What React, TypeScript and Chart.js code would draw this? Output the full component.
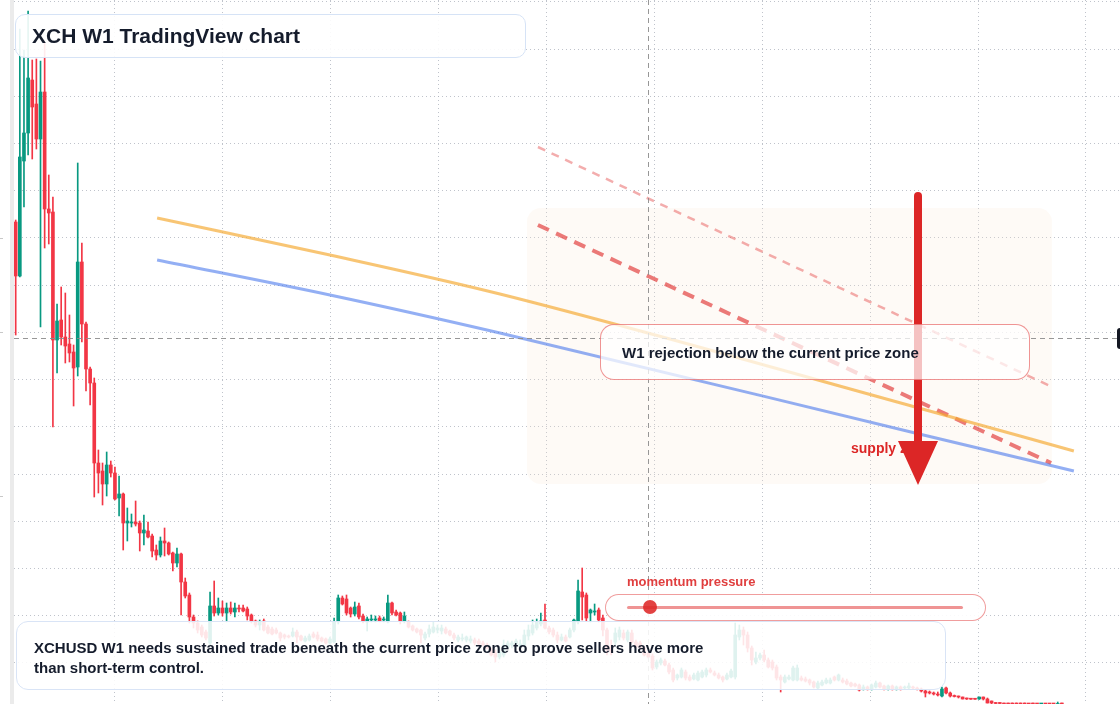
import React, { useEffect, useRef } from "react";
import { Chart, registerables } from "chart.js";

Chart.register(...registerables);

// Weekly XCH candles (price units of the hidden right axis)
const opens = [
  976, 868, 1098, 1154, 1260, 1212, 1142, 1236, 1002, 996,
  740, 780, 746, 732, 716, 686, 896, 772, 682, 654,
  494, 478, 452, 490, 474, 424, 432, 374, 374, 376,
  374, 354, 358, 348, 320, 310, 338, 334, 314, 294,
  312, 256, 230, 186, 174, 166, 156, 134, 208, 194,
  204, 194, 204, 196, 204, 204, 202, 190, 178, 170,
  178, 166, 162, 160, 154, 150, 148, 148, 156, 148,
  138, 140, 152, 150, 144, 142, 134, 136, 176, 224,
  222, 204, 192, 208, 188, 176, 180, 180, 184, 180,
  176, 214, 196, 194, 178, 176, 168, 162, 160, 144,
  152, 156, 160, 158, 162, 158, 150, 140, 142, 140,
  138, 140, 138, 134, 130, 120, 114, 106, 110, 126,
  130, 132, 126, 130, 148, 154, 164, 172, 180, 164,
  160, 150, 140, 146, 146, 160, 176, 236, 230, 194,
  196, 200, 184, 160, 128, 136, 146, 154, 140, 154,
  136, 134, 124, 114, 108, 86, 94, 98, 90, 80,
  64, 66, 76, 66, 62, 60, 66, 70, 80, 74,
  70, 66, 62, 66, 66, 146, 160, 150, 124, 96,
  104, 110, 100, 96, 86, 66, 56, 62, 60, 60,
  64, 62, 60, 56, 44, 50, 54, 54, 66, 60,
  60, 58, 54, 52, 50, 42, 46, 42, 46, 54,
  48, 42, 48, 42, 46, 44, 44, 46, 44, 42,
  38, 36, 34, 32, 28, 44, 34, 28, 28, 26,
  24, 22, 22, 22, 26, 22, 18, 14, 14, 13,
  13, 12.5, 13, 12, 13, 12, 12, 12, 11, 12,
  12, 11.5, 11, 13,
];
const highs = [
  980, 1362, 1320, 1398, 1300, 1302, 1298, 1334, 1070, 1026,
  812, 846, 834, 790, 730, 1094, 934, 776, 686, 664,
  520, 494, 516, 498, 486, 468, 434, 404, 392, 418,
  378, 390, 376, 352, 330, 346, 364, 336, 316, 324,
  314, 264, 234, 190, 178, 170, 160, 236, 258, 224,
  218, 214, 216, 214, 210, 210, 206, 192, 180, 180,
  182, 170, 166, 164, 156, 152, 150, 164, 160, 150,
  148, 152, 156, 156, 146, 144, 146, 184, 230, 228,
  230, 206, 216, 214, 192, 186, 190, 188, 188, 186,
  230, 216, 200, 196, 196, 178, 170, 164, 162, 156,
  170, 176, 170, 170, 166, 160, 154, 150, 152, 148,
  148, 144, 142, 138, 134, 124, 120, 124, 140, 138,
  138, 142, 140, 160, 170, 180, 182, 194, 212, 168,
  164, 156, 152, 150, 164, 182, 260, 284, 234, 202,
  212, 204, 190, 164, 140, 164, 166, 160, 160, 160,
  140, 138, 128, 118, 112, 100, 104, 102, 94, 84,
  72, 84, 80, 70, 74, 78, 80, 84, 84, 78,
  74, 68, 74, 82, 174, 170, 166, 156, 128, 116,
  114, 120, 104, 100, 90, 70, 70, 70, 88, 90,
  68, 66, 62, 58, 58, 60, 64, 64, 68, 72,
  64, 62, 56, 54, 52, 50, 48, 52, 58, 56,
  50, 50, 50, 48, 48, 48, 54, 48, 46, 44,
  40, 38, 36, 36, 46, 46, 36, 30, 28, 26,
  24, 23, 23, 26, 26, 24, 18, 15, 15, 14,
  14, 14, 14, 14, 14, 13, 14, 13, 13, 13,
  13, 13, 16, 14,
];
const lows = [
  750, 866, 1006, 1110, 1102, 1122, 766, 924, 932, 566,
  674, 730, 694, 696, 608, 668, 736, 638, 610, 426,
  434, 410, 428, 466, 420, 388, 320, 338, 366, 368,
  318, 330, 344, 306, 300, 306, 308, 310, 278, 286,
  190, 224, 174, 164, 154, 146, 140, 130, 188, 190,
  188, 176, 192, 186, 196, 196, 180, 174, 166, 160,
  158, 152, 150, 152, 138, 142, 144, 146, 134, 138,
  136, 138, 144, 138, 136, 132, 132, 134, 172, 210,
  190, 186, 188, 182, 174, 158, 176, 176, 176, 176,
  174, 190, 188, 172, 174, 164, 158, 154, 134, 140,
  146, 154, 154, 152, 152, 148, 140, 136, 138, 136,
  134, 130, 130, 128, 122, 108, 96, 102, 106, 122,
  124, 126, 120, 126, 140, 150, 160, 168, 162, 152,
  146, 134, 138, 136, 144, 156, 172, 180, 178, 176,
  190, 176, 148, 110, 110, 130, 140, 140, 136, 134,
  124, 120, 108, 104, 80, 82, 90, 88, 72, 56,
  60, 64, 60, 58, 60, 58, 64, 66, 74, 68,
  62, 56, 60, 64, 62, 140, 130, 116, 90, 92,
  100, 96, 84, 80, 60, 36, 54, 60, 58, 58,
  58, 56, 50, 44, 42, 48, 52, 52, 58, 58,
  54, 50, 46, 46, 38, 40, 40, 40, 44, 44,
  40, 40, 40, 40, 40, 42, 42, 42, 40, 36,
  26, 32, 30, 28, 26, 32, 26, 26, 24, 22,
  21, 21, 21, 21, 20, 14, 12.5, 12.5, 12, 11,
  11, 11, 11, 10, 11, 10, 10, 10, 10, 10,
  10, 10, 10, 10,
];
const closes = [
  868, 1106, 1154, 1264, 1206, 1142, 1236, 1002, 994, 740,
  778, 746, 728, 714, 684, 896, 772, 682, 654, 494,
  474, 452, 490, 474, 422, 432, 374, 378, 376, 372,
  354, 360, 346, 318, 310, 338, 334, 312, 294, 312,
  256, 228, 186, 174, 160, 150, 144, 208, 194, 204,
  194, 204, 196, 204, 202, 198, 188, 178, 170, 176,
  160, 154, 152, 154, 144, 146, 146, 156, 146, 140,
  144, 148, 146, 142, 138, 134, 142, 176, 224, 212,
  194, 192, 206, 186, 178, 182, 182, 182, 178, 182,
  214, 194, 190, 178, 188, 166, 160, 156, 150, 152,
  162, 166, 164, 164, 154, 150, 144, 146, 144, 146,
  142, 134, 132, 130, 124, 110, 106, 116, 130, 134,
  134, 138, 132, 150, 160, 170, 176, 178, 164, 156,
  150, 140, 146, 138, 160, 180, 238, 226, 184, 200,
  198, 180, 160, 120, 116, 154, 160, 144, 156, 136,
  126, 124, 110, 106, 84, 96, 100, 90, 76, 60,
  70, 80, 64, 60, 70, 74, 76, 80, 76, 70,
  64, 60, 70, 78, 150, 160, 150, 124, 100, 104,
  110, 100, 86, 84, 64, 60, 66, 66, 84, 84,
  60, 58, 54, 46, 54, 56, 60, 60, 60, 70,
  56, 52, 48, 48, 40, 46, 42, 50, 54, 46,
  42, 48, 42, 46, 42, 46, 48, 44, 42, 38,
  34, 34, 32, 30, 42, 34, 28, 27, 26, 22,
  22, 21.6, 21.5, 26, 22, 14, 14, 13, 13, 12,
  12, 12, 12, 11.5, 12, 11, 11, 11, 12, 11,
  11, 11, 13, 12,
];

// Time grid (half-year marks, in week index) and price grid levels
const halfYearTicks = [-2.09, 24, 50.09, 76.18, 102.27, 128.36, 154.45, 180.54, 206.63, 232.72, 258.81];
const priceGrid = [94.4, 188.8, 283.2, 377.6, 472, 566.4, 660.8, 755.2, 849.6, 944, 1038.4, 1132.8, 1227.2, 1321.6, 1416];

// Overlay curves (week index / price)
const curveWeeks = [34.2, 76, 117.1, 217.5, 255.9];
const orangeCurve = [984, 910, 832, 606, 518];
const blueCurve = [900, 830, 754, 554, 478];
const rejWeeks = [126.3, 250.4];
const upperRejection = [1126, 647];
const lowerRejection = [970, 494];
const zoneWeeks = [123.65, 250.6];
const zonePrices = [452, 1004];
const crossWeek = 152.9;
const crossPrice = 744;

const UP = "#089981";
const DOWN = "#f23645";

const overlayPlugin = {
  id: "overlayPlugin",
  beforeDatasetsDraw(chart: any) {
    const { ctx, scales } = chart;
    const x = scales.x, y = scales.y;
    const x0 = x.getPixelForValue(zoneWeeks[0]);
    const x1 = x.getPixelForValue(zoneWeeks[1]);
    const y0 = y.getPixelForValue(zonePrices[1]);
    const y1 = y.getPixelForValue(zonePrices[0]);
    ctx.save();
    ctx.fillStyle = "rgba(252,232,212,0.2)";
    ctx.beginPath();
    ctx.roundRect(x0, y0, x1 - x0, y1 - y0, 14);
    ctx.fill();
    ctx.restore();
  },
  afterDatasetsDraw(chart: any) {
    const { ctx, scales, chartArea } = chart;
    const px = Math.round(scales.x.getPixelForValue(crossWeek)) + 0.5;
    const py = Math.round(scales.y.getPixelForValue(crossPrice)) + 0.5;
    ctx.save();
    ctx.strokeStyle = "rgba(140,140,140,0.9)";
    ctx.lineWidth = 1;
    ctx.setLineDash([5, 4]);
    ctx.beginPath();
    ctx.moveTo(px, chartArea.top);
    ctx.lineTo(px, chartArea.bottom);
    ctx.moveTo(chartArea.left, py);
    ctx.lineTo(chartArea.right, py);
    ctx.stroke();
    ctx.restore();
  },
};

function App() {
  const ref = useRef<HTMLCanvasElement | null>(null);

  useEffect(() => {
    if (!ref.current) return;
    const weeks = opens.map((_, i) => i);
    const colors = weeks.map((i) => (closes[i] >= opens[i] ? UP : DOWN));
    const chart = new Chart(ref.current, {
      type: "bar",
      data: {
        datasets: [
          {
            type: "line",
            data: curveWeeks.map((w, i) => ({ x: w, y: orangeCurve[i] })),
            borderColor: "rgba(245,170,50,0.68)",
            borderWidth: 3,
            pointRadius: 0,
            cubicInterpolationMode: "monotone",
            order: 1,
          },
          {
            type: "line",
            data: curveWeeks.map((w, i) => ({ x: w, y: blueCurve[i] })),
            borderColor: "rgba(59,110,235,0.55)",
            borderWidth: 3,
            pointRadius: 0,
            cubicInterpolationMode: "monotone",
            order: 1,
          },
          {
            type: "line",
            data: rejWeeks.map((w, i) => ({ x: w, y: upperRejection[i] })),
            borderColor: "rgba(225,50,50,0.4)",
            borderWidth: 2.5,
            borderDash: [8, 7],
            pointRadius: 0,
            order: 1,
          },
          {
            type: "line",
            data: rejWeeks.map((w, i) => ({ x: w, y: lowerRejection[i] })),
            borderColor: "rgba(225,50,50,0.65)",
            borderWidth: 4,
            borderDash: [12, 8],
            pointRadius: 0,
            order: 1,
          },
          {
            type: "bar",
            data: weeks.map((i) => ({ x: i, y: [lows[i], highs[i]] })) as any,
            backgroundColor: colors,
            barThickness: 1,
            grouped: false,
            borderWidth: 0,
            order: 4,
          },
          {
            type: "bar",
            data: weeks.map((i) => ({ x: i, y: [opens[i], closes[i]] })) as any,
            backgroundColor: colors,
            barThickness: 3,
            minBarLength: 1,
            grouped: false,
            borderWidth: 0,
            order: 3,
          },
        ] as any,
      },
      options: {
        responsive: false,
        maintainAspectRatio: false,
        animation: false,
        devicePixelRatio: 1,
        events: [],
        layout: { padding: 0 },
        plugins: { legend: { display: false }, tooltip: { enabled: false } },
        scales: {
          x: {
            type: "linear",
            min: -0.411,
            max: 267.06,
            offset: false,
            afterBuildTicks: (s: any) => {
              s.ticks = halfYearTicks.map((v) => ({ value: v }));
            },
            ticks: { display: false },
            grid: { color: "rgba(170,175,185,0.75)", drawTicks: false, lineWidth: 1, offset: false },
            border: { display: false, dash: [1, 3] },
          },
          y: {
            type: "linear",
            min: 12,
            max: 1420,
            afterBuildTicks: (s: any) => {
              s.ticks = priceGrid.map((v) => ({ value: v }));
            },
            ticks: { display: false },
            grid: { color: "rgba(170,175,185,0.75)", drawTicks: false, lineWidth: 1, offset: false },
            border: { display: false, dash: [1, 3] },
          },
        },
      } as any,
      plugins: [overlayPlugin],
    });
    return () => chart.destroy();
  }, []);

  const font = '"Liberation Sans", Arial, Helvetica, sans-serif';
  const dark = "#151c2c";

  return (
    <div
      style={{
        position: "fixed",
        left: 0,
        top: 0,
        width: 1120,
        height: 704,
        overflow: "hidden",
        background: "#ffffff",
        fontFamily: font,
      }}
    >
      <div style={{ position: "absolute", left: 10, top: 0, width: 4, height: 704, background: "#ebebeb" }} />
      {[238, 332, 496].map((t) => (
        <div key={t} style={{ position: "absolute", left: 0, top: t, width: 3, height: 1, background: "#c8c8c8" }} />
      ))}
      <div style={{ position: "absolute", left: 14, top: 0, width: 1106, height: 704 }}>
        <canvas ref={ref} width={1106} height={704} style={{ display: "block" }} />
      </div>

      <div
        style={{
          position: "absolute",
          left: 851,
          top: 440,
          fontSize: 14,
          lineHeight: "16px",
          fontWeight: 700,
          color: "#dc2626",
          whiteSpace: "nowrap",
        }}
      >
        supply zone
      </div>

      <svg width={1120} height={704} style={{ position: "absolute", left: 0, top: 0 }}>
        <line x1={918} y1={196} x2={918} y2={446} stroke="#dc2626" strokeWidth={8} strokeLinecap="round" />
        <polygon points="898,441 938,441 918,485" fill="#dc2626" />
      </svg>

      <div
        style={{
          position: "absolute",
          left: 600,
          top: 324,
          width: 430,
          height: 56,
          boxSizing: "border-box",
          border: "1.5px solid rgba(225,60,60,0.55)",
          borderRadius: 14,
          background: "rgba(255,255,255,0.72)",
        }}
      />
      <div
        style={{
          position: "absolute",
          left: 622,
          top: 343,
          fontSize: 15,
          lineHeight: "20px",
          fontWeight: 700,
          color: dark,
          whiteSpace: "nowrap",
        }}
      >
        W1 rejection below the current price zone
      </div>

      <div
        style={{
          position: "absolute",
          left: 15,
          top: 14,
          width: 511,
          height: 44,
          boxSizing: "border-box",
          border: "1.5px solid #d6e3f6",
          borderRadius: 10,
          background: "rgba(255,255,255,0.9)",
        }}
      />
      <div
        style={{
          position: "absolute",
          left: 32,
          top: 23,
          fontSize: 21,
          lineHeight: "26px",
          fontWeight: 700,
          color: dark,
          whiteSpace: "nowrap",
        }}
      >
        XCH W1 TradingView chart
      </div>

      <div
        style={{
          position: "absolute",
          left: 16,
          top: 621,
          width: 930,
          height: 69,
          boxSizing: "border-box",
          border: "1.5px solid #d9e4f6",
          borderRadius: 12,
          background: "rgba(255,255,255,0.87)",
        }}
      />
      <div
        style={{
          position: "absolute",
          left: 34,
          top: 638,
          width: 690,
          fontSize: 15,
          lineHeight: "20px",
          fontWeight: 700,
          color: dark,
        }}
      >
        XCHUSD W1 needs sustained trade beneath the current price zone to prove sellers have more than short-term control.
      </div>

      <div
        style={{
          position: "absolute",
          left: 627,
          top: 574,
          fontSize: 13,
          lineHeight: "16px",
          fontWeight: 700,
          color: "#e03e3e",
          whiteSpace: "nowrap",
        }}
      >
        momentum pressure
      </div>
      <div
        style={{
          position: "absolute",
          left: 605,
          top: 594,
          width: 381,
          height: 27,
          boxSizing: "border-box",
          border: "1.5px solid rgba(225,60,60,0.5)",
          borderRadius: 14,
          background: "rgba(255,255,255,0.9)",
        }}
      />
      <div
        style={{
          position: "absolute",
          left: 627,
          top: 605.5,
          width: 336,
          height: 3.5,
          borderRadius: 2,
          background: "rgba(225,60,60,0.55)",
        }}
      />
      <div
        style={{
          position: "absolute",
          left: 643,
          top: 600,
          width: 14,
          height: 14,
          borderRadius: 7,
          background: "rgba(222,40,40,0.88)",
        }}
      />

      <div
        style={{
          position: "absolute",
          left: 1117,
          top: 328,
          width: 12,
          height: 21,
          borderRadius: 3,
          background: "#131722",
        }}
      />
    </div>
  );
}

export default App;
